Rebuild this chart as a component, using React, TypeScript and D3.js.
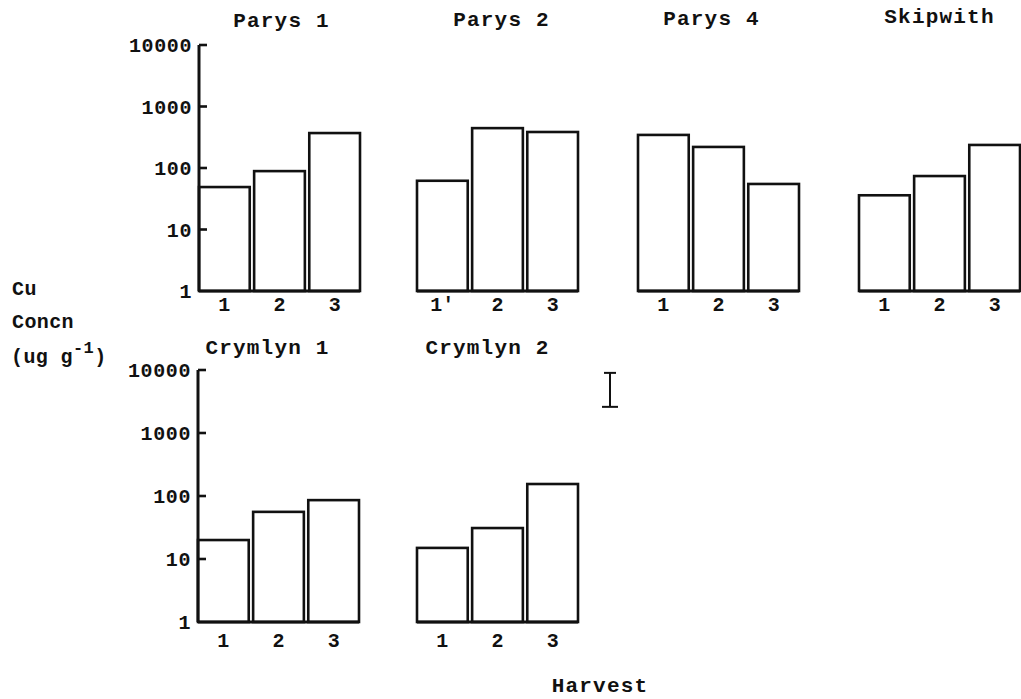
import React from "react";
import * as d3 from "d3";

// ---- data ----
const sites = ["Parys 1", "Parys 2", "Parys 4", "Skipwith", "Crymlyn 1", "Crymlyn 2"];
const harvestLabels = [
  ["1", "2", "3"],
  ["1'", "2", "3"],
  ["1", "2", "3"],
  ["1", "2", "3"],
  ["1", "2", "3"],
  ["1", "2", "3"],
];
const parys1 = [49, 89, 370];
const parys2 = [62, 445, 385];
const parys4 = [345, 220, 55];
const skipwith = [36, 74, 237];
const crymlyn1 = [20, 56, 86];
const crymlyn2 = [15, 31, 155];
const siteValues = [parys1, parys2, parys4, skipwith, crymlyn1, crymlyn2];
const yTicks = [1, 10, 100, 1000, 10000];
const yTickLabels = ["1", "10", "100", "1000", "10000"];
const lsdBar = [2600, 9000]; // error bar range on the Crymlyn scale
const yLabelLines = ["Cu", "Concn"];
const xTitle = "Harvest";

const FONT = "'Liberation Mono', 'DejaVu Sans Mono', monospace";

export default function App() {
  const W = 1021, H = 699;
  const topY = d3.scaleLog().domain([1, 10000]).range([291, 45]);
  const botY = d3.scaleLog().domain([1, 10000]).range([622, 370]);
  const panelW = 161;

  const layout = [
    { x0: 199, row: 0, axis: true, titleDx: 2, titleY: 27 },
    { x0: 417, row: 0, axis: false, titleDx: 4, titleY: 26 },
    { x0: 638, row: 0, axis: false, titleDx: -7, titleY: 25 },
    { x0: 859, row: 0, axis: false, titleDx: 0, titleY: 23 },
    { x0: 198, row: 1, axis: true, titleDx: -11, titleY: 354 },
    { x0: 417, row: 1, axis: false, titleDx: -10, titleY: 354 },
  ];
  const labelY = [311, 647];

  const textStyle: React.CSSProperties = {
    fontFamily: FONT,
    fontWeight: "bold",
    fill: "#111",
  };

  return (
    <svg
      width={W}
      height={H}
      viewBox={`0 0 ${W} ${H}`}
      style={{ position: "absolute", left: 0, top: 0, background: "#fff" }}
    >
      <rect x={0} y={0} width={W} height={H} fill="#fff" />
      {sites.map((name, i) => {
        const L = layout[i];
        const y = L.row === 0 ? topY : botY;
        const x = d3
          .scaleBand<number>()
          .domain([0, 1, 2])
          .range([L.x0, L.x0 + panelW])
          .paddingInner(0.08)
          .paddingOuter(0);
        const vals = siteValues[i];
        const base = y(1);
        return (
          <g key={name}>
            <text
              x={L.x0 + panelW / 2 + L.titleDx}
              y={L.titleY}
              textAnchor="middle"
              fontSize={21}
              letterSpacing={1.2}
              style={textStyle}
            >
              {name}
            </text>
            {vals.map((v, j) => (
              <rect
                key={j}
                x={x(j)!}
                y={y(v)}
                width={x.bandwidth()}
                height={base - y(v)}
                fill="#fff"
                stroke="#111"
                strokeWidth={2.6}
              />
            ))}
            <line
              x1={L.x0}
              x2={L.x0 + panelW}
              y1={base}
              y2={base}
              stroke="#111"
              strokeWidth={3}
            />
            {harvestLabels[i].map((lab, j) => (
              <text
                key={j}
                x={x(j)! + x.bandwidth() / 2}
                y={labelY[L.row]}
                textAnchor="middle"
                fontSize={20}
                style={textStyle}
              >
                {lab}
              </text>
            ))}
            {L.axis && (
              <g>
                <line
                  x1={L.x0}
                  x2={L.x0}
                  y1={y(1)}
                  y2={y(10000)}
                  stroke="#111"
                  strokeWidth={3}
                />
                {yTicks.map((t, k) => (
                  <g key={t}>
                    {t !== 1 && (
                      <line
                        x1={L.x0}
                        x2={L.x0 + 8}
                        y1={y(t)}
                        y2={y(t)}
                        stroke="#111"
                        strokeWidth={2.6}
                      />
                    )}
                    <text
                      x={L.x0 - 7}
                      y={y(t)}
                      dy="0.36em"
                      textAnchor="end"
                      fontSize={20}
                      letterSpacing={0.6}
                      style={textStyle}
                    >
                      {yTickLabels[k]}
                    </text>
                  </g>
                ))}
              </g>
            )}
          </g>
        );
      })}

      {/* LSD bar */}
      {(() => {
        const cx = layout[5].x0 + panelW + 32;
        const y1 = botY(lsdBar[0]);
        const y2 = botY(lsdBar[1]);
        return (
          <g stroke="#111" strokeWidth={2}>
            <line x1={cx} x2={cx} y1={y1} y2={y2} />
            <line x1={cx - 8} x2={cx + 8} y1={y1} y2={y1} />
            <line x1={cx - 6} x2={cx + 6} y1={y2} y2={y2} />
          </g>
        );
      })()}

      {/* y axis title */}
      <text x={12} y={295} fontSize={20} letterSpacing={0.4} style={textStyle}>
        {yLabelLines[0]}
      </text>
      <text x={12} y={328} fontSize={20} letterSpacing={0.4} style={textStyle}>
        {yLabelLines[1]}
      </text>
      <text x={11} y={363} fontSize={20} letterSpacing={0.4} style={textStyle}>
        <tspan>(ug g</tspan>
        <tspan dy={-10} fontSize={17}>-1</tspan>
        <tspan dy={10}>)</tspan>
      </text>

      <text
        x={600}
        y={692}
        textAnchor="middle"
        fontSize={21}
        letterSpacing={1.2}
        style={textStyle}
      >
        {xTitle}
      </text>
    </svg>
  );
}
